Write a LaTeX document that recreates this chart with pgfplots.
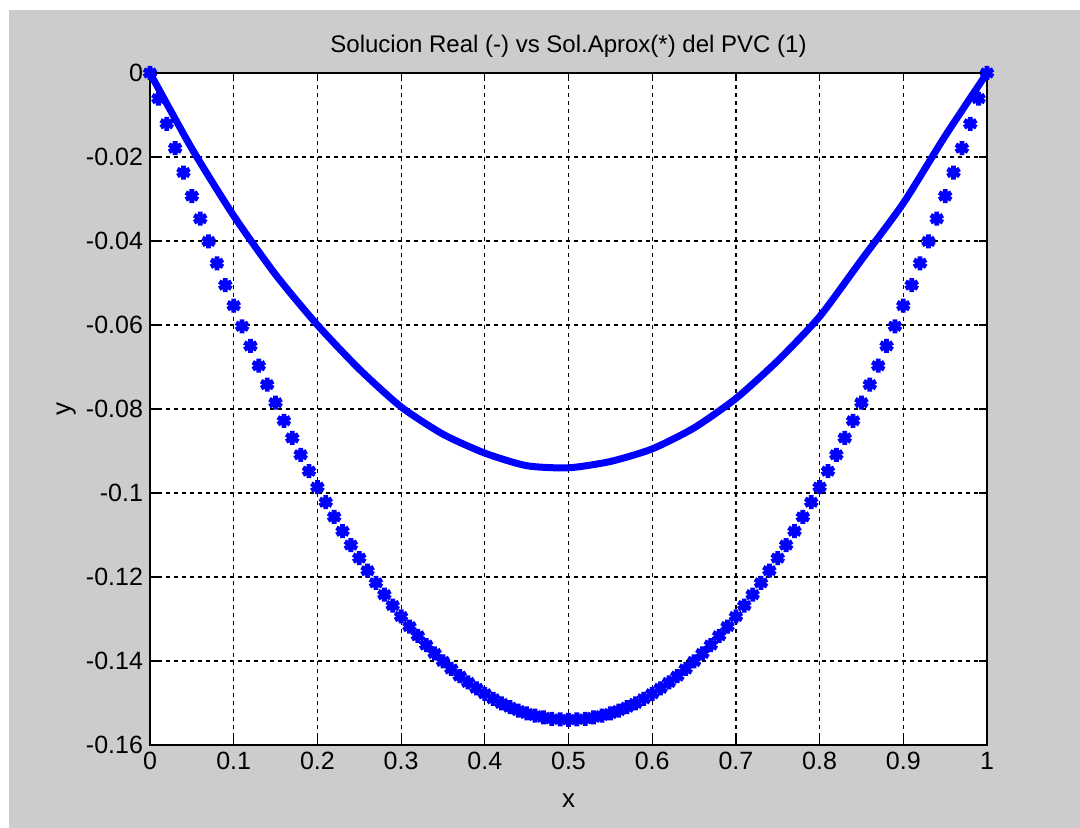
\documentclass[border=0pt]{standalone}
\usepackage{fontspec}
\setmainfont{Liberation Sans}
\usepackage{pgfplots}
\pgfplotsset{compat=1.18}
\definecolor{figgrey}{RGB}{204,204,204}
\definecolor{mblue}{RGB}{0,0,255}

\pgfplotstableread{
x y
0.00 0
0.05 -0.0180
0.10 -0.0340
0.15 -0.0480
0.20 -0.0600
0.25 -0.0705
0.30 -0.0795
0.35 -0.0860
0.40 -0.0905
0.45 -0.0935
0.50 -0.0940
0.55 -0.0925
0.60 -0.0895
0.65 -0.0845
0.70 -0.0775
0.75 -0.0685
0.80 -0.0580
0.85 -0.0445
0.90 -0.0310
0.95 -0.0150
1.00 0
}\real

% solucion aproximada, h = 0.01
\pgfplotstableread{
x y
0.00 0
0.01 -0.0061
0.02 -0.0121
0.03 -0.0179
0.04 -0.0237
0.05 -0.0293
0.06 -0.0347
0.07 -0.0401
0.08 -0.0453
0.09 -0.0505
0.10 -0.0554
0.11 -0.0603
0.12 -0.0650
0.13 -0.0697
0.14 -0.0742
0.15 -0.0785
0.16 -0.0828
0.17 -0.0869
0.18 -0.0909
0.19 -0.0948
0.20 -0.0986
0.21 -0.1022
0.22 -0.1057
0.23 -0.1091
0.24 -0.1124
0.25 -0.1155
0.26 -0.1185
0.27 -0.1214
0.28 -0.1242
0.29 -0.1268
0.30 -0.1294
0.31 -0.1318
0.32 -0.1340
0.33 -0.1362
0.34 -0.1382
0.35 -0.1401
0.36 -0.1419
0.37 -0.1436
0.38 -0.1451
0.39 -0.1465
0.40 -0.1478
0.41 -0.1490
0.42 -0.1501
0.43 -0.1510
0.44 -0.1518
0.45 -0.1525
0.46 -0.1530
0.47 -0.1534
0.48 -0.1538
0.49 -0.1539
0.50 -0.1540
0.51 -0.1539
0.52 -0.1538
0.53 -0.1534
0.54 -0.1530
0.55 -0.1525
0.56 -0.1518
0.57 -0.1510
0.58 -0.1501
0.59 -0.1490
0.60 -0.1478
0.61 -0.1465
0.62 -0.1451
0.63 -0.1436
0.64 -0.1419
0.65 -0.1401
0.66 -0.1382
0.67 -0.1362
0.68 -0.1340
0.69 -0.1318
0.70 -0.1294
0.71 -0.1268
0.72 -0.1242
0.73 -0.1214
0.74 -0.1185
0.75 -0.1155
0.76 -0.1124
0.77 -0.1091
0.78 -0.1057
0.79 -0.1022
0.80 -0.0986
0.81 -0.0948
0.82 -0.0909
0.83 -0.0869
0.84 -0.0828
0.85 -0.0785
0.86 -0.0742
0.87 -0.0697
0.88 -0.0650
0.89 -0.0603
0.90 -0.0554
0.91 -0.0505
0.92 -0.0453
0.93 -0.0401
0.94 -0.0347
0.95 -0.0293
0.96 -0.0237
0.97 -0.0179
0.98 -0.0121
0.99 -0.0061
1.00 0
}\aprox

\begin{document}
\begin{tikzpicture}[x=1pt,y=1pt]
\fill[white] (0,0) rectangle (540,414);
\fill[figgrey] (4.5,0) rectangle (540,409);
\begin{axis}[
    at={(75pt,41.5pt)}, anchor=south west,
    scale only axis, width=418.5pt, height=336pt,
    axis background/.style={fill=white},
    xmin=0, xmax=1, ymin=-0.16, ymax=0,
    xtick={0,0.1,0.2,0.3,0.4,0.5,0.6,0.7,0.8,0.9,1},
    ytick={-0.16,-0.14,-0.12,-0.1,-0.08,-0.06,-0.04,-0.02,0},
    scaled y ticks=false,
    yticklabel style={/pgf/number format/fixed,/pgf/number format/precision=2},
    /pgf/number format/assume math mode=true,
    tick label style={font=\fontsize{12.5}{14}\selectfont, black},
    tick style={black, line width=0.6pt},
    major tick length=4pt,
    axis line style={black, line width=0.7pt},
    grid=major,
    major grid style={black, line width=0.6pt, dash pattern=on 2pt off 2pt},
    title={Solucion Real (-) vs Sol.Aprox(*) del PVC (1)},
    title style={at={(axis description cs:0.5,1.012)}, anchor=base, font=\fontsize{12}{14}\selectfont},
    xlabel={x}, ylabel={y},
    xlabel style={at={(axis description cs:0.5,-0.083)}, anchor=center, font=\fontsize{13}{14}\selectfont},
    ylabel style={at={(axis description cs:-0.1,0.5)}, anchor=center, font=\fontsize{13}{14}\selectfont},
    clip=false,
]
\addplot[mblue, line width=3.5pt, smooth, tension=0.4] table {\real};
\addplot[mblue, only marks, mark=asterisk, mark size=3.5pt, mark options={line width=2.4pt}] table {\aprox};
\end{axis}
\end{tikzpicture}
\end{document}
